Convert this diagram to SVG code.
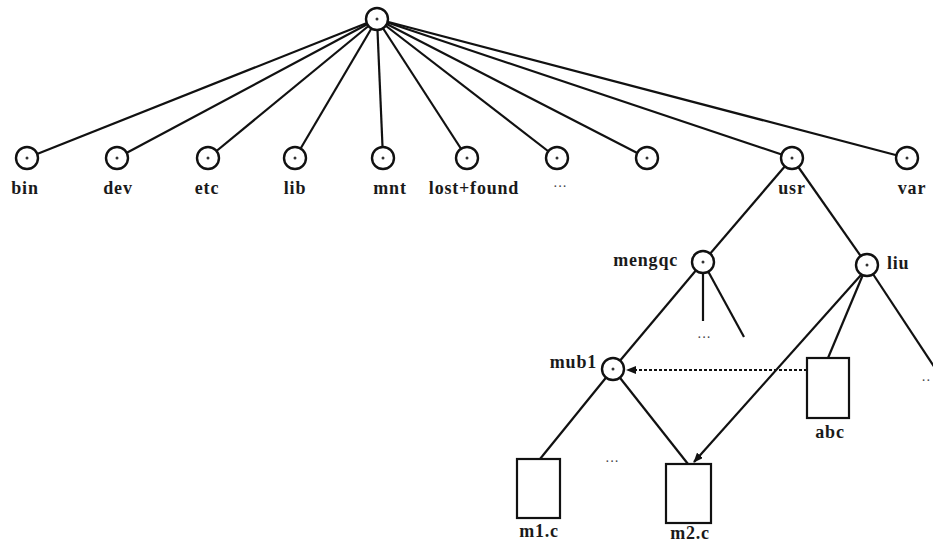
<svg xmlns="http://www.w3.org/2000/svg" width="933" height="542" viewBox="0 0 933 542">
<defs>
<style>
.e{stroke:#111;stroke-width:2.2;fill:none}
.n{fill:#fff;stroke:#111;stroke-width:2.4}
.d{fill:#333}
.b{fill:#fff;stroke:#111;stroke-width:2.2}
text{font-family:"Liberation Serif","Times New Roman",serif;font-size:18px;font-weight:bold;letter-spacing:0.8px;fill:#1a1a1a}
.m{text-anchor:middle}
.r{text-anchor:end}
.s{font-size:14px;font-weight:normal;letter-spacing:0;fill:#444}
</style>
<marker id="ah" markerWidth="10" markerHeight="8" refX="9" refY="4" orient="auto" markerUnits="userSpaceOnUse">
<path d="M0,0 L10,4 L0,8 Z" fill="#111"/>
</marker>
</defs>
<rect width="933" height="542" fill="#fff"/>
<g id="connectors">
<line class="e" x1="377" y1="19" x2="27" y2="158"/>
<line class="e" x1="377" y1="19" x2="117" y2="158"/>
<line class="e" x1="377" y1="19" x2="208" y2="158"/>
<line class="e" x1="377" y1="19" x2="295" y2="158"/>
<line class="e" x1="377" y1="19" x2="383" y2="158"/>
<line class="e" x1="377" y1="19" x2="467" y2="158"/>
<line class="e" x1="377" y1="19" x2="557" y2="158"/>
<line class="e" x1="377" y1="19" x2="647" y2="158"/>
<line class="e" x1="377" y1="19" x2="792" y2="158"/>
<line class="e" x1="377" y1="19" x2="907" y2="158"/>
<line class="e" x1="792" y1="158" x2="703" y2="262"/>
<line class="e" x1="792" y1="158" x2="867" y2="265"/>
<line class="e" x1="703" y1="262" x2="613" y2="369"/>
<line class="e" x1="703" y1="262" x2="703" y2="321"/>
<line class="e" x1="703" y1="262" x2="744" y2="337"/>
<line class="e" x1="867" y1="265" x2="828" y2="358"/>
<line class="e" x1="867" y1="265" x2="935" y2="368"/>
<line class="e" x1="861" y1="275" x2="694" y2="462" marker-end="url(#ah)"/>
<line class="e" x1="613" y1="369" x2="540" y2="459"/>
<line class="e" x1="613" y1="369" x2="688" y2="464"/>
<line class="e" x1="807" y1="370" x2="627" y2="370" stroke-dasharray="3,2" stroke-width="1.6" marker-end="url(#ah)"/>
</g>
<g id="root"><circle class="n" cx="377" cy="19" r="11"/><circle class="d" cx="377" cy="19" r="1.5"/></g>
<g id="bin"><circle class="n" cx="27" cy="158" r="11"/><circle class="d" cx="27" cy="158" r="1.5"/><text class="m" x="25" y="194">bin</text></g>
<g id="dev"><circle class="n" cx="117" cy="158" r="11"/><circle class="d" cx="117" cy="158" r="1.5"/><text class="m" x="118" y="194">dev</text></g>
<g id="etc"><circle class="n" cx="208" cy="158" r="11"/><circle class="d" cx="208" cy="158" r="1.5"/><text class="m" x="207" y="194">etc</text></g>
<g id="lib"><circle class="n" cx="295" cy="158" r="11"/><circle class="d" cx="295" cy="158" r="1.5"/><text class="m" x="295" y="194">lib</text></g>
<g id="mnt"><circle class="n" cx="383" cy="158" r="11"/><circle class="d" cx="383" cy="158" r="1.5"/><text class="m" x="390" y="194">mnt</text></g>
<g id="lostfound"><circle class="n" cx="467" cy="158" r="11"/><circle class="d" cx="467" cy="158" r="1.5"/><text class="m" x="474" y="194">lost+found</text></g>
<g id="dots1"><circle class="n" cx="557" cy="158" r="11"/><circle class="d" cx="557" cy="158" r="1.5"/><text class="m s" x="560" y="191">···</text></g>
<g id="blank"><circle class="n" cx="647" cy="158" r="11"/><circle class="d" cx="647" cy="158" r="1.5"/></g>
<g id="usr"><circle class="n" cx="792" cy="158" r="11"/><circle class="d" cx="792" cy="158" r="1.5"/><text class="m" x="792" y="194">usr</text></g>
<g id="var"><circle class="n" cx="907" cy="158" r="11"/><circle class="d" cx="907" cy="158" r="1.5"/><text class="m" x="912" y="194">var</text></g>
<g id="mengqc"><circle class="n" cx="703" cy="262" r="11"/><circle class="d" cx="703" cy="262" r="1.5"/><text class="r" x="678" y="266">mengqc</text><text class="m s" x="704" y="342">···</text></g>
<g id="liu"><circle class="n" cx="867" cy="265" r="11"/><circle class="d" cx="867" cy="265" r="1.5"/><text x="887" y="269">liu</text><text class="m s" x="926" y="385">··</text></g>
<g id="mub1"><circle class="n" cx="613" cy="369" r="11"/><circle class="d" cx="613" cy="369" r="1.5"/><text class="r" x="597" y="368">mub1</text></g>
<g id="abc"><rect class="b" x="807" y="358" width="42" height="60"/><text class="m" x="830" y="438">abc</text></g>
<g id="m1c"><rect class="b" x="517" y="459" width="43" height="59"/><text class="m" x="539" y="537">m1.c</text></g>
<g id="dots2"><text class="m s" x="612" y="466">···</text></g>
<g id="m2c"><rect class="b" x="666" y="464" width="45" height="59"/><text class="m" x="690" y="539">m2.c</text></g>
</svg>
